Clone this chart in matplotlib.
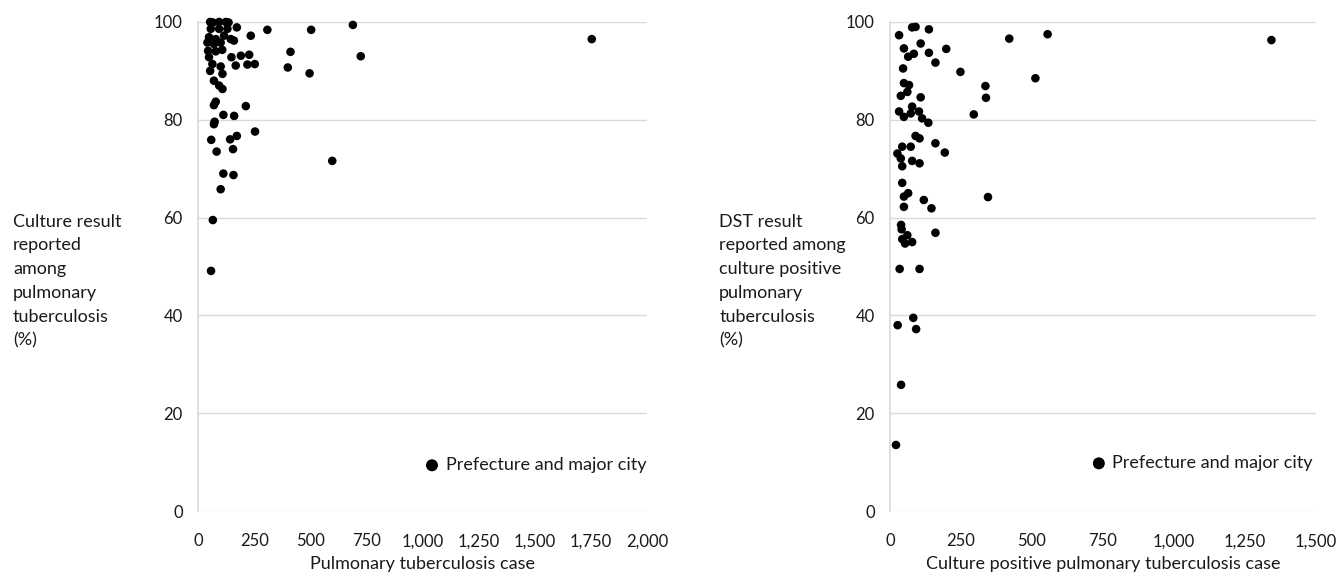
import matplotlib
matplotlib.use("Agg")
import matplotlib.pyplot as plt
from matplotlib.ticker import FuncFormatter

plt.rcParams['font.family'] = ['Lato', 'DejaVu Sans']

# left panel: pulmonary TB cases vs culture result reported (%)
ptb_cases = [54, 94, 124, 136, 66, 173, 57, 94, 131, 309, 504, 690, 235, 49, 79, 116,
             146, 160, 42, 71, 101, 45, 79, 108, 412, 725, 49, 149, 191, 228, 64, 101,
             168, 220, 253, 400, 54, 109, 497, 71, 94, 109, 1754,
             79, 71, 213, 113, 161, 74, 71, 254, 59, 143, 173, 83, 156, 598, 113, 158,
             101, 66, 58]
culture_pct = [100, 100, 100, 99.9, 99.9, 98.9, 98.6, 98.6, 98.6, 98.4, 98.4, 99.4, 97.2,
               96.9, 96.5, 97.2, 96.5, 96.2, 95.8, 95.5, 95.8, 94.1, 94.0, 94.3, 93.9, 93.0,
               92.8, 92.8, 93.1, 93.3, 91.4, 90.9, 91.1, 91.3, 91.4, 90.7, 90.0, 89.4, 89.5,
               88.0, 87.0, 86.3, 96.5,
               83.7, 83.0, 82.8, 81.0, 80.8, 79.6, 79.1, 77.6, 75.9, 76.0, 76.7, 73.5, 74.0,
               71.6, 69.0, 68.7, 65.8, 59.5, 49.1]

# right panel: culture positive cases vs DST result reported (%)
cpos_cases = [32, 78, 90, 137, 420, 555, 1343, 49, 108, 64, 84, 137, 198, 160, 46, 248,
              512, 49, 67, 38, 61, 108, 336, 338, 32, 49, 78, 73, 102, 113, 135, 295,
              90, 104, 160, 193, 43, 73, 26, 38, 43, 78, 104, 43, 49, 64, 49, 119, 146,
              345, 39, 41, 61, 43, 53, 78, 160, 34, 104, 82, 27, 92, 39, 21]
dst_pct = [97.3, 98.9, 99.0, 98.5, 96.6, 97.5, 96.3, 94.6, 95.6, 92.9, 93.5, 93.7, 94.5,
           91.7, 90.5, 89.8, 88.5, 87.5, 87.1, 84.9, 85.7, 84.6, 86.9, 84.5, 81.7, 80.6,
           82.7, 81.3, 81.7, 80.3, 79.4, 81.1, 76.7, 76.2, 75.2, 73.3, 74.5, 74.5, 73.1,
           72.1, 70.5, 71.6, 71.1, 67.1, 64.3, 65.0, 62.2, 63.6, 61.9, 64.2, 58.5, 57.6,
           56.4, 55.6, 54.7, 55.0, 56.9, 49.5, 49.5, 39.5, 38.0, 37.2, 25.8, 13.5]

y_ticks = [0, 20, 40, 60, 80, 100]
left_x_ticks = [0, 250, 500, 750, 1000, 1250, 1500, 1750, 2000]
right_x_ticks = [0, 250, 500, 750, 1000, 1250, 1500]

left_ylabel = "Culture result\nreported\namong\npulmonary\ntuberculosis\n(%)"
right_ylabel = "DST result\nreported among\nculture positive\npulmonary\ntuberculosis\n(%)"
legend_text = "Prefecture and major city"

W, H = 1338, 578
fig = plt.figure(figsize=(W / 100, H / 100), dpi=100)
ax1 = fig.add_axes([198 / W, (H - 511) / H, 449 / W, 489 / H])
ax2 = fig.add_axes([890 / W, (H - 511) / H, 426 / W, 489 / H])

txt = '#1a1a1a'
grid = '#d9d9d9'
comma = FuncFormatter(lambda v, p: f"{int(v):,}")


def style(ax, xs, ys, xticks, ylabel, xlabel, leg_xy):
    ax.scatter(xs, ys, s=38, color='black', edgecolors='none', label=legend_text,
               zorder=3, clip_on=False)
    ax.set_xlim(xticks[0], xticks[-1])
    ax.set_ylim(0, 100)
    ax.set_xticks(xticks)
    ax.set_yticks(y_ticks)
    ax.xaxis.set_major_formatter(comma)
    ax.grid(axis='y', color=grid, linewidth=1)
    ax.set_axisbelow(True)
    for s in ['top', 'right', 'bottom']:
        ax.spines[s].set_visible(False)
    ax.spines['left'].set_color(grid)
    ax.spines['left'].set_linewidth(1.2)
    ax.tick_params(length=0, labelsize=12, labelcolor=txt)
    ax.tick_params(axis='y', pad=11)
    ax.tick_params(axis='x', pad=16)
    ax.set_xlabel(xlabel, fontsize=13, color=txt, labelpad=5)
    ax.set_ylabel(ylabel, fontsize=13, color=txt, rotation=0, ha='left', va='center',
                  linespacing=1.6)
    leg = ax.legend(loc='center left', bbox_to_anchor=leg_xy, frameon=False, fontsize=13,
                    handlelength=1, handletextpad=0.25, borderpad=0, borderaxespad=0,
                    markerscale=1.4)
    for t in leg.get_texts():
        t.set_color(txt)


style(ax1, ptb_cases, culture_pct, left_x_ticks, left_ylabel,
      "Pulmonary tuberculosis case", (0.501, 0.094))
ax1.yaxis.set_label_coords(-0.412, 0.47)

style(ax2, cpos_cases, dst_pct, right_x_ticks, right_ylabel,
      "Culture positive pulmonary tuberculosis case", (0.469, 0.098))
ax2.yaxis.set_label_coords(-0.401, 0.47)

fig.savefig("out.png", dpi=100)
